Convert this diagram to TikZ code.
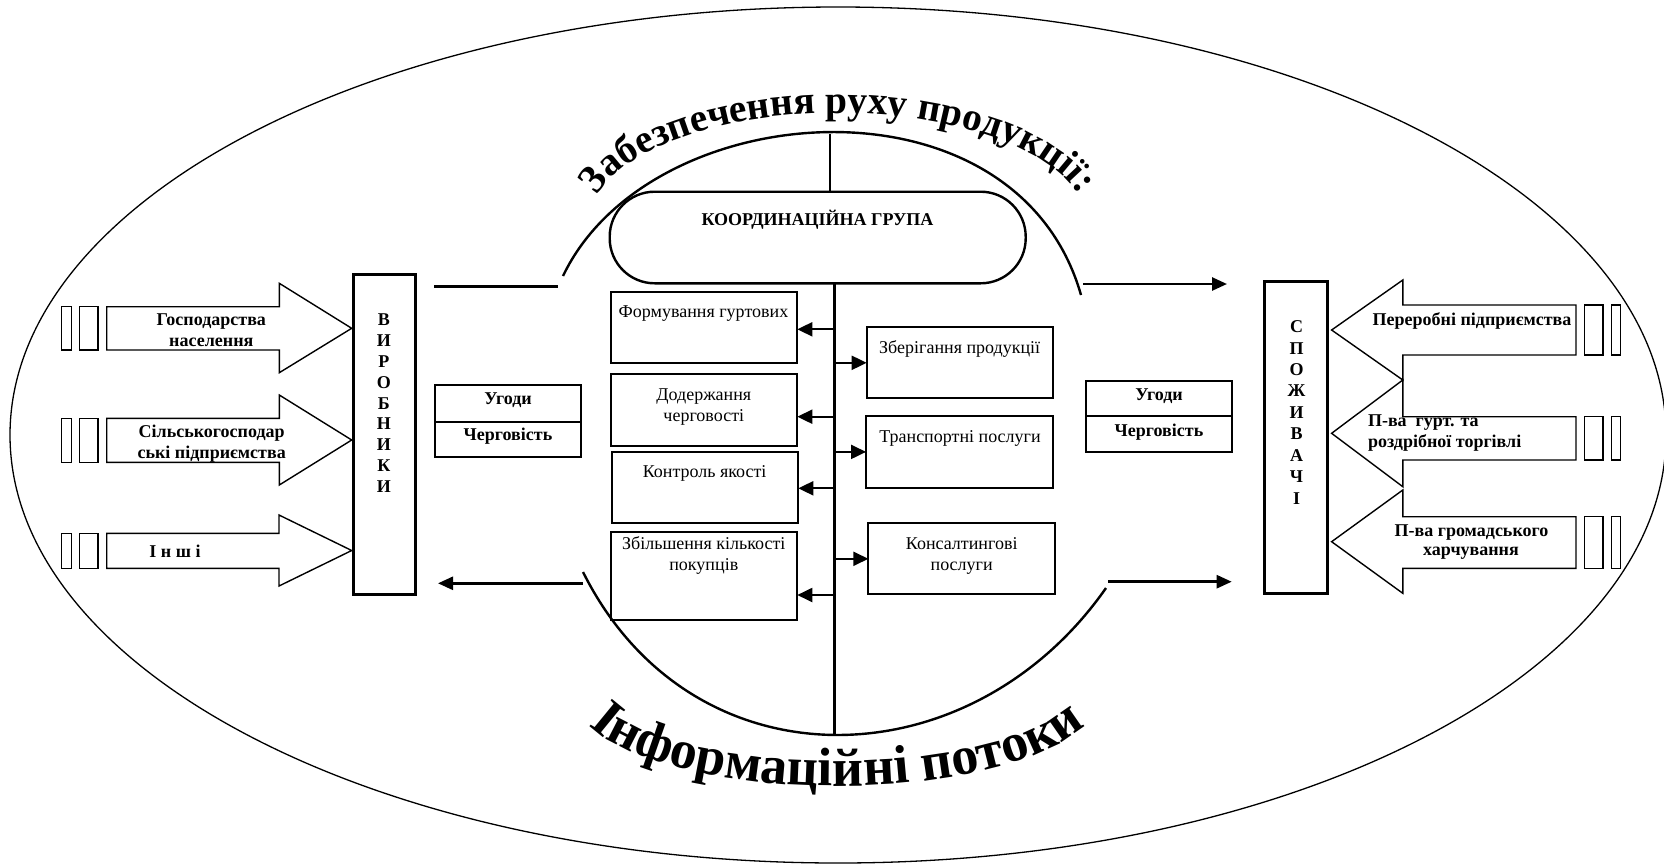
\documentclass[tikz,border=0pt]{standalone}
\usepackage{fontspec}
\setmainfont{Liberation Serif}
\usetikzlibrary{arrows.meta,decorations.text}
\newcommand\arcupfont{\fontsize{3.95}{3.95}\selectfont\bfseries}
\newcommand\arclowfont{\fontsize{5.4}{5.4}\selectfont\bfseries}
\begin{document}
\begin{tikzpicture}[x=1pt,y=-1pt,
  every node/.style={inner sep=0pt,outer sep=0pt},
  bl/.style={font=\fontsize{18}{21}\selectfont\bfseries,anchor=base},
  rl/.style={font=\fontsize{18}{21}\selectfont,anchor=base},
  vl/.style={font=\fontsize{18}{21}\selectfont\bfseries,anchor=center},
  cbox/.style={draw,line width=1.8pt},
  tbox/.style={draw,line width=3pt},
  blockarrow/.style={draw,line width=1.4pt,line join=miter},
  stub/.style={draw,line width=1.4pt},
  flow/.style={line width=2.6pt},
  flowarr/.style={line width=2.6pt,-{Triangle[length=15pt,width=13pt]}},
  carr/.style={line width=2pt,-{Triangle[length=15pt,width=14pt]}},
  curve/.style={line width=2.4pt},
]
\useasboundingbox (0,0) rectangle (1664,863);

% outer ellipse
\draw[line width=1.3pt] (838,435) ellipse [x radius=828pt, y radius=428pt];

% curved titles (built at 1/10 scale, then enlarged)
\begin{scope}[transform canvas={scale=10}]
\path[decorate,decoration={text along path,text align=center,
  text={|\arcupfont|Забезпечення руху продукції:}}]
  plot[domain=180:360,samples=100] ({83.8+25.0*cos(\x)},{22.5+11.2*sin(\x)});
\path[decorate,decoration={text along path,text align=center,
  text={|\arclowfont|Інформаційні потоки}}]
  plot[domain=180:0,samples=100] ({83.7+26.2*cos(\x)},{69.6+9.0*sin(\x)});
\end{scope}

% inner arcs
\coordinate (ua1) at (563,276);
\coordinate (ua2) at (1081,295);
\coordinate (la1) at (583,572);
\coordinate (la2) at (1106,588);
\draw[curve] (ua1) .. controls (649.4,94.6) and (1015.9,67.2) .. (ua2);
\draw[curve] (la1) .. controls (691.8,789.6) and (969.2,783.6) .. (la2);

% coordination group
\node[draw,line width=2.4pt,rounded corners=45pt,minimum width=416pt,minimum height=91.6pt] (pill) at (817.7,237.5) {};
\node[bl] (pillt) at (817.5,225) {КООРДИНАЦІЙНА ГРУПА};
\coordinate (arctop) at (830,134);
\draw[line width=2.4pt] (arctop) -- (pill.north -| arctop);
\coordinate (spine) at (834.5,0);
\coordinate (spinebot) at (834.5,735);
\draw[line width=2.8pt] (pill.south -| spine) -- (spinebot);

% left column boxes
\node[cbox,minimum width=186.6pt,minimum height=71pt] (L1) at (704,327.2) {};
\node[cbox,minimum width=186.6pt,minimum height=71.4pt] (L2) at (704,410) {};
\node[cbox,minimum width=186.6pt,minimum height=71pt] (L3) at (705,487.8) {};
\node[cbox,minimum width=186.6pt,minimum height=88.3pt] (L4) at (704,575.9) {};
\node[rl] (L1t) at (703.5,317.5) {Формування гуртових};
\node[rl] (L2ta) at (703.8,400) {Додержання};
\node[rl] (L2tb) at (703.8,421.5) {черговості};
\node[rl] (L3t) at (704.6,477.3) {Контроль якості};
\node[rl] (L4ta) at (703.8,549.3) {Збільшення кількості};
\node[rl] (L4tb) at (703.8,570.7) {покупців};

% right column boxes
\node[cbox,minimum width=186.6pt,minimum height=71pt] (R1) at (960,362.8) {};
\node[cbox,minimum width=187.3pt,minimum height=71.7pt] (R2) at (959.7,451.9) {};
\node[cbox,minimum width=186.7pt,minimum height=71pt] (R3) at (961.7,558.8) {};
\node[rl] (R1t) at (959.7,353.3) {Зберігання продукції};
\node[rl] (R2t) at (960,442.3) {Транспортні послуги};
\node[rl] (R3ta) at (961.7,549.3) {Консалтингові};
\node[rl] (R3tb) at (961.7,570.7) {послуги};

% spine connectors
\draw[carr] (spine |- 0,329.3) -- (L1.east |- 0,329.3);
\draw[carr] (spine |- 0,416.7) -- (L2.east |- 0,416.7);
\draw[carr] (spine |- 0,488.3) -- (L3.east |- 0,488.3);
\draw[carr] (spine |- 0,595) -- (L4.east |- 0,595);
\draw[carr] (R1.west -| spine) -- (R1.west);
\draw[carr] (R2.west -| spine) -- (R2.west);
\draw[carr] (R3.west -| spine) -- (R3.west);

% producers / consumers
\node[tbox,minimum width=62pt,minimum height=320pt] (vyr) at (384,434) {};
\foreach \c [count=\i] in {В,И,Р,О,Б,Н,И,К,И}
  \node[vl] (vyr\i) at (383.8,{320+(\i-1)*20.8}) {\c};
\node[tbox,minimum width=63.5pt,minimum height=311.6pt] (spo) at (1296,437.5) {};
\foreach \c [count=\i] in {С,П,О,Ж,И,В,А,Ч,І}
  \node[vl] (spo\i) at (1296.5,{326.7+(\i-1)*21.45}) {\c};

% agreement boxes
\node[cbox,minimum width=145.7pt,minimum height=71.7pt] (ugl) at (507.9,420.9) {};
\draw[line width=1.8pt] (ugl.west |- 0,421.7) -- (ugl.east |- 0,421.7);
\node[bl] (ugla) at (508,404) {Угоди};
\node[bl] (uglb) at (508,440) {Черговість};
\node[cbox,minimum width=145.7pt,minimum height=71pt] (ugr) at (1158.9,416.2) {};
\draw[line width=1.8pt] (ugr.west |- 0,416) -- (ugr.east |- 0,416);
\node[bl] (ugra) at (1159,400) {Угоди};
\node[bl] (ugrb) at (1159,436.7) {Черговість};

% flow lines
\coordinate (fl1a) at (434,286.7);
\coordinate (fl1b) at (557.7,286.7);
\draw[flow] (fl1a) -- (fl1b);
\coordinate (fl2a) at (583,583.3);
\coordinate (fl2b) at (438,583.3);
\draw[flowarr] (fl2a) -- (fl2b);
\coordinate (fr1a) at (1083.3,284);
\coordinate (fr1b) at (1227,284);
\draw[flowarr] (fr1a) -- (fr1b);
\coordinate (fr2a) at (1108,581.7);
\coordinate (fr2b) at (1231.7,581.7);
\draw[flowarr] (fr2a) -- (fr2b);

% left block arrows
\draw[blockarrow] (106.7,306.7) -- (279.3,306.7) -- (279.3,283.3) -- (351.7,328.3) -- (279.3,372.7) -- (279.3,350) -- (106.7,350) -- cycle;
\draw[blockarrow] (106.7,418.3) -- (279.3,418.3) -- (279.3,395) -- (351.7,440) -- (279.3,485) -- (279.3,462.3) -- (106.7,462.3) -- cycle;
\draw[blockarrow] (106.7,533.3) -- (279,533.3) -- (279,515) -- (351.7,550.5) -- (279,586) -- (279,568.3) -- (106.7,568.3) -- cycle;
\foreach \ya/\yb in {306.7/350, 418.3/462.3, 533.3/568.3}{
  \draw[stub] (61.7,\ya) rectangle (71.5,\yb);
  \draw[stub] (79.5,\ya) rectangle (97.8,\yb);
}
\node[bl] (a1a) at (211.3,325) {Господарства};
\node[bl] (a1b) at (211.3,346) {населення};
\node[bl] (a2a) at (211.7,437) {Сільськогосподар};
\node[bl] (a2b) at (211.7,458.5) {ські підприємства};
\node[bl] (a3) at (175,557) {І н ш і};

% right block arrows
\draw[blockarrow] (1576,305) -- (1402.8,305) -- (1402.8,280) -- (1331.6,330) -- (1402.8,380) -- (1402.8,355) -- (1576,355) -- cycle;
\draw[blockarrow] (1576,416.7) -- (1402.8,416.7) -- (1402.8,380) -- (1331.6,433.3) -- (1402.8,486.7) -- (1402.8,460) -- (1576,460) -- cycle;
\draw[blockarrow] (1576,516.7) -- (1402.8,516.7) -- (1402.8,490) -- (1331.6,541.7) -- (1402.8,593.3) -- (1402.8,568.3) -- (1576,568.3) -- cycle;
\foreach \ya/\yb in {305/355, 416.7/460, 516.7/568.3}{
  \draw[stub] (1584.7,\ya) rectangle (1603,\yb);
  \draw[stub] (1611.6,\ya) rectangle (1620.5,\yb);
}
\node[bl] (b1) at (1472,325) {Переробні підприємства};
\node[bl,anchor=base west] (b2a) at (1368,426.5) {П-ва~~гурт. та};
\node[bl,anchor=base west] (b2b) at (1368,447.7) {роздрібної торгівлі};
\node[bl] (b3a) at (1471.5,536.5) {П-ва громадського};
\node[bl] (b3b) at (1471,555.5) {харчування};
\end{tikzpicture}
\end{document}
